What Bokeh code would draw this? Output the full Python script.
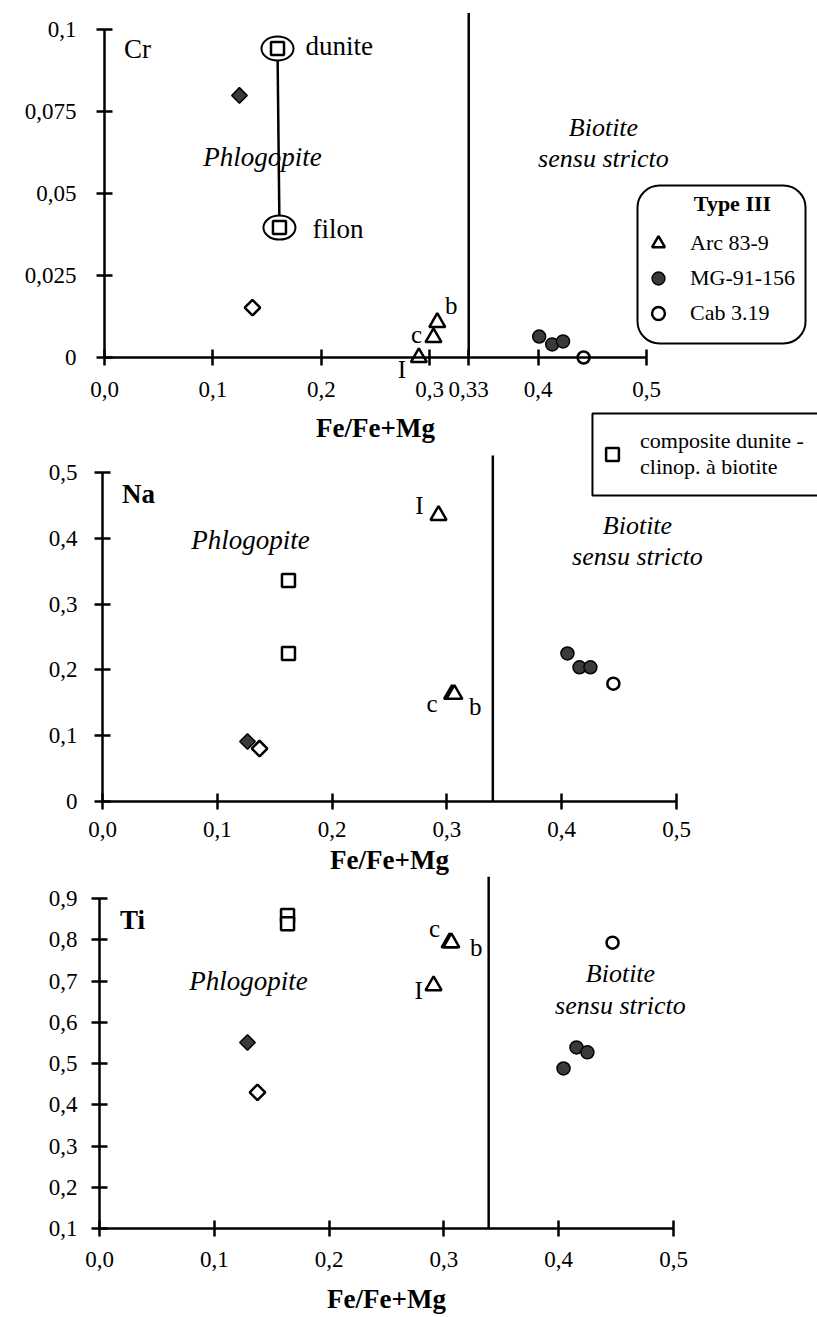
import numpy as np
from bokeh.plotting import figure
from bokeh.models import (Range1d, LinearAxis, FixedTicker, Legend, LegendItem,
                          BoxAnnotation, Label)
from bokeh.core.properties import value
from bokeh.embed import file_html
from bokeh.resources import INLINE

# ---------------------------------------------------------------- data
arc_labels = ["I", "c", "b"]          # Arc 83-9 analyses
comp_labels_cr = ["dunite", "filon"]  # composite dunite - clinop. a biotite

x_ticks = [0, 0.1, 0.2, 0.3, 0.4, 0.5]
x_tick_labels = ["0,0", "0,1", "0,2", "0,3", "0,4", "0,5"]
boundary = [0.336, 0.34, 0.339]       # Phlogopite / Biotite limit drawn in each panel
boundary_label = "0,33"

# Cr panel
cr_ticks = [0, 0.025, 0.05, 0.075, 0.1]
cr_tick_labels = ["0", "0,025", "0,05", "0,075", "0,1"]
cr_arc_x = [0.290, 0.3035, 0.307]
cr_arc_y = [0.0, 0.0061, 0.0107]
cr_mg_x = [0.401, 0.413, 0.423]
cr_mg_y = [0.0064, 0.0040, 0.0049]
cr_cab_x = [0.442]
cr_cab_y = [0.0]
cr_comp_x = [0.1596, 0.1614]
cr_comp_y = [0.0942, 0.0396]
cr_dfill_x = [0.1245]
cr_dfill_y = [0.0799]
cr_dopen_x = [0.1365]
cr_dopen_y = [0.0152]

# Na panel
na_ticks = [0, 0.1, 0.2, 0.3, 0.4, 0.5]
na_tick_labels = ["0", "0,1", "0,2", "0,3", "0,4", "0,5"]
na_arc_x = [0.2927, 0.3045, 0.3065]
na_arc_y = [0.435, 0.163, 0.163]
na_mg_x = [0.405, 0.4155, 0.425]
na_mg_y = [0.225, 0.204, 0.204]
na_cab_x = [0.445]
na_cab_y = [0.179]
na_comp_x = [0.162, 0.162]
na_comp_y = [0.336, 0.225]
na_dfill_x = [0.1263]
na_dfill_y = [0.0912]
na_dopen_x = [0.1368]
na_dopen_y = [0.0805]

# Ti panel
ti_ticks = [0.1, 0.2, 0.3, 0.4, 0.5, 0.6, 0.7, 0.8, 0.9]
ti_tick_labels = ["0,1", "0,2", "0,3", "0,4", "0,5", "0,6", "0,7", "0,8", "0,9"]
ti_arc_x = [0.291, 0.305, 0.3065]
ti_arc_y = [0.689, 0.793, 0.793]
ti_mg_x = [0.4155, 0.425, 0.4042]
ti_mg_y = [0.539, 0.527, 0.488]
ti_cab_x = [0.4469]
ti_cab_y = [0.793]
ti_comp_x = [0.1638, 0.1638]
ti_comp_y = [0.859, 0.839]
ti_dfill_x = [0.1289]
ti_dfill_y = [0.551]
ti_dopen_x = [0.1376]
ti_dopen_y = [0.430]

# ---------------------------------------------------------------- layout
W, H = 817, 1317
SERIF = "Liberation Serif"


def make_ranges(ox, oy, sx, sy, x0, y0):
    xr = Range1d(x0 - ox / sx, x0 + (W - ox) / sx)
    yr = Range1d(y0 - (H - oy) / sy, y0 + oy / sy)
    return xr, yr


xr1, yr1 = make_ranges(104, 357, 1084, 3280, 0.0, 0.0)
xr2, yr2 = make_ranges(102, 801, 1148, 658, 0.0, 0.0)
xr3, yr3 = make_ranges(99, 1228, 1148, 412.5, 0.0, 0.1)

p = figure(width=W, height=H, x_range=xr1, y_range=yr1,
           x_axis_type=None, y_axis_type=None, min_border=0,
           toolbar_location=None, output_backend="svg", title=None,
           outline_line_color=None, background_fill_color="white",
           border_fill_color="white")
p.extra_x_ranges = {"x2": xr2, "x3": xr3}
p.extra_y_ranges = {"y2": yr2, "y3": yr3}

panels = [
    dict(name="Cr", xr="default", yr="default", y0=0.0, ytop=0.1,
         yt=cr_ticks, ytl=cr_tick_labels,
         xt=x_ticks[:4] + [boundary[0]] + x_ticks[4:],
         xtl=x_tick_labels[:4] + [boundary_label] + x_tick_labels[4:],
         xstand=16, ystand=20, tstand=13, line_top=0.105,
         arc=(cr_arc_x, cr_arc_y), mg=(cr_mg_x, cr_mg_y), cab=(cr_cab_x, cr_cab_y),
         comp=(cr_comp_x, cr_comp_y), dfill=(cr_dfill_x, cr_dfill_y),
         dopen=(cr_dopen_x, cr_dopen_y),
         arc_off=([-17, -17, 14], [12, -3, -17]),
         title_pos=(0.0304, 0.0942), title_bold=False,
         phlog=(0.1458, 0.0610), bio=(0.4603, 0.0701, 0.0607)),
    dict(name="Na", xr="x2", yr="y2", y0=0.0, ytop=0.5,
         yt=na_ticks, ytl=na_tick_labels, xt=x_ticks, xtl=x_tick_labels,
         xstand=12, ystand=17, tstand=5, line_top=0.526,
         arc=(na_arc_x, na_arc_y), mg=(na_mg_x, na_mg_y), cab=(na_cab_x, na_cab_y),
         comp=(na_comp_x, na_comp_y), dfill=(na_dfill_x, na_dfill_y),
         dopen=(na_dopen_x, na_dopen_y),
         arc_off=([-19, -20, 21], [-10, 9, 12]),
         title_pos=(0.0314, 0.468), title_bold=True,
         phlog=(0.1289, 0.3967), bio=(0.466, 0.4195, 0.3723)),
    dict(name="Ti", xr="x3", yr="y3", y0=0.1, ytop=0.9,
         yt=ti_ticks, ytl=ti_tick_labels, xt=x_ticks, xtl=x_tick_labels,
         xstand=15, ystand=14, tstand=14, line_top=0.953,
         arc=(ti_arc_x, ti_arc_y), mg=(ti_mg_x, ti_mg_y), cab=(ti_cab_x, ti_cab_y),
         comp=(ti_comp_x, ti_comp_y), dfill=(ti_dfill_x, ti_dfill_y),
         dopen=(ti_dopen_x, ti_dopen_y),
         arc_off=([-15, -15, 25], [5, -14, 5]),
         title_pos=(0.0287, 0.8467), title_bold=True,
         phlog=(0.1298, 0.7012), bio=(0.4538, 0.7182, 0.6406)),
]

axis_style = dict(axis_line_width=2.5, axis_line_color="black",
                  major_tick_line_width=2.5, major_tick_line_color="black",
                  major_tick_in=8, major_tick_out=8,
                  minor_tick_line_color=None,
                  major_label_text_font=SERIF, major_label_text_font_size="23px",
                  major_label_text_color="black")

open_style = dict(fill_color="white", line_color="black", line_width=2.5)
fill_style = dict(fill_color="#3a3a3a", line_color="black", line_width=1.5)

legend_renderers = {}

for i, pn in enumerate(panels):
    rn = dict(x_range_name=pn["xr"], y_range_name=pn["yr"])

    yax = LinearAxis(fixed_location=0, bounds=(pn["y0"], pn["ytop"]),
                     ticker=FixedTicker(ticks=pn["yt"], minor_ticks=[]),
                     major_label_overrides=dict(zip(pn["yt"], pn["ytl"])),
                     major_label_standoff=pn["ystand"], **rn, **axis_style)
    p.add_layout(yax, "left")
    xax = LinearAxis(fixed_location=pn["y0"], bounds=(0, 0.5),
                     ticker=FixedTicker(ticks=pn["xt"], minor_ticks=[]),
                     major_label_overrides=dict(zip(pn["xt"], pn["xtl"])),
                     major_label_standoff=pn["xstand"],
                     axis_label="Fe/Fe+Mg", axis_label_text_font=SERIF,
                     axis_label_text_font_style="bold",
                     axis_label_text_font_size="27px",
                     axis_label_text_color="black",
                     axis_label_standoff=pn["tstand"], **rn, **axis_style)
    p.add_layout(xax, "below")

    # Phlogopite / Biotite limit
    p.segment(x0=boundary[i], y0=pn["y0"], x1=boundary[i], y1=pn["line_top"],
              line_color="black", line_width=2.5, **rn)

    cx, cy = pn["comp"]
    if i == 0:
        p.segment(x0=cx[0], y0=cy[0], x1=cx[1], y1=cy[1],
                  line_color="black", line_width=2.5, **rn)
        p.ellipse(x=cx, y=cy, width=32, height=24, width_units="screen",
                  height_units="screen", fill_color="white", line_color="black",
                  line_width=2, **rn)
        p.text(x=cx, y=cy, text=comp_labels_cr, x_offset=[28, 33], y_offset=[-3, 1],
               text_font=value(SERIF), text_font_size="27px", text_color="black",
               text_align="left", text_baseline="middle", **rn)

    r_comp = p.scatter(cx, cy, marker="square", size=13, **open_style, **rn)
    r_dfill = p.scatter(*pn["dfill"], marker="square", angle=np.pi / 4, size=11,
                        **fill_style, **rn)
    r_dopen = p.scatter(*pn["dopen"], marker="square", angle=np.pi / 4, size=11,
                        **open_style, **rn)
    r_arc = p.scatter(*pn["arc"], marker="triangle", size=16, **open_style, **rn)
    r_mg = p.scatter(*pn["mg"], marker="circle", size=13, **fill_style, **rn)
    r_cab = p.scatter(*pn["cab"], marker="circle", size=12, **open_style, **rn)

    ax_, ay_ = pn["arc"]
    p.text(x=ax_, y=ay_, text=arc_labels, x_offset=pn["arc_off"][0],
           y_offset=pn["arc_off"][1], text_font=value(SERIF), text_font_size="25px",
           text_color="black", text_align="center", text_baseline="middle", **rn)

    if i == 0:
        legend_renderers.update(arc=r_arc, mg=r_mg, cab=r_cab)
    if i == 1:
        legend_renderers.update(comp=r_comp)

    tx, ty = pn["title_pos"]
    p.add_layout(Label(x=tx, y=ty, text=pn["name"], text_font=SERIF,
                       text_font_size="27px", text_color="black",
                       text_font_style="bold" if pn["title_bold"] else "normal",
                       text_align="center", text_baseline="middle", **rn))
    px_, py_ = pn["phlog"]
    p.add_layout(Label(x=px_, y=py_, text="Phlogopite", text_font=SERIF,
                       text_font_size="27px", text_font_style="italic",
                       text_color="black",
                       text_align="center", text_baseline="middle", **rn))
    bx, by1, by2 = pn["bio"]
    p.add_layout(Label(x=bx, y=by1, text="Biotite", text_font=SERIF,
                       text_font_size="26px", text_font_style="italic",
                       text_color="black",
                       text_align="center", text_baseline="middle", **rn))
    p.add_layout(Label(x=bx, y=by2, text="sensu stricto", text_font=SERIF,
                       text_font_size="26px", text_font_style="italic",
                       text_color="black",
                       text_align="center", text_baseline="middle", **rn))

# ---------------------------------------------------------------- legends
p.add_layout(BoxAnnotation(left=0.4917, right=0.6467, bottom=0.00427, top=0.05244,
                           fill_alpha=0, line_color="black", line_alpha=1,
                           line_width=2, border_radius=22))
p.add_layout(Label(x=0.5793, y=0.04695, text="Type III", text_font=SERIF,
                   text_font_size="22px", text_font_style="bold",
                   text_color="black",
                   text_align="center", text_baseline="middle"))

leg_style = dict(border_line_alpha=0, background_fill_alpha=0, padding=4,
                 spacing=3, margin=0, glyph_width=32, glyph_height=32,
                 label_standoff=16, label_text_font=SERIF,
                 label_text_font_size="22px", label_text_color="black")

leg1 = Legend(items=[LegendItem(label="Arc 83-9", renderers=[legend_renderers["arc"]]),
                     LegendItem(label="MG-91-156", renderers=[legend_renderers["mg"]]),
                     LegendItem(label="Cab 3.19", renderers=[legend_renderers["cab"]])],
              location=(638, 984), **leg_style)
p.add_layout(leg1, "center")

p.add_layout(BoxAnnotation(left=0.4268, right=0.64, bottom=0.465, top=0.5897,
                           fill_color="white", fill_alpha=1, line_color="black",
                           line_alpha=1, line_width=2,
                           x_range_name="x2", y_range_name="y2"))
leg2 = Legend(items=[LegendItem(label="composite dunite -\nclinop. à biotite",
                                renderers=[legend_renderers["comp"]])],
              location=(592, 833), **dict(leg_style, label_text_font_size="22px",
                                          label_text_line_height=1.3,
                                          label_standoff=12))
p.add_layout(leg2, "center")

open("out.html", "w").write(file_html(p, INLINE))
